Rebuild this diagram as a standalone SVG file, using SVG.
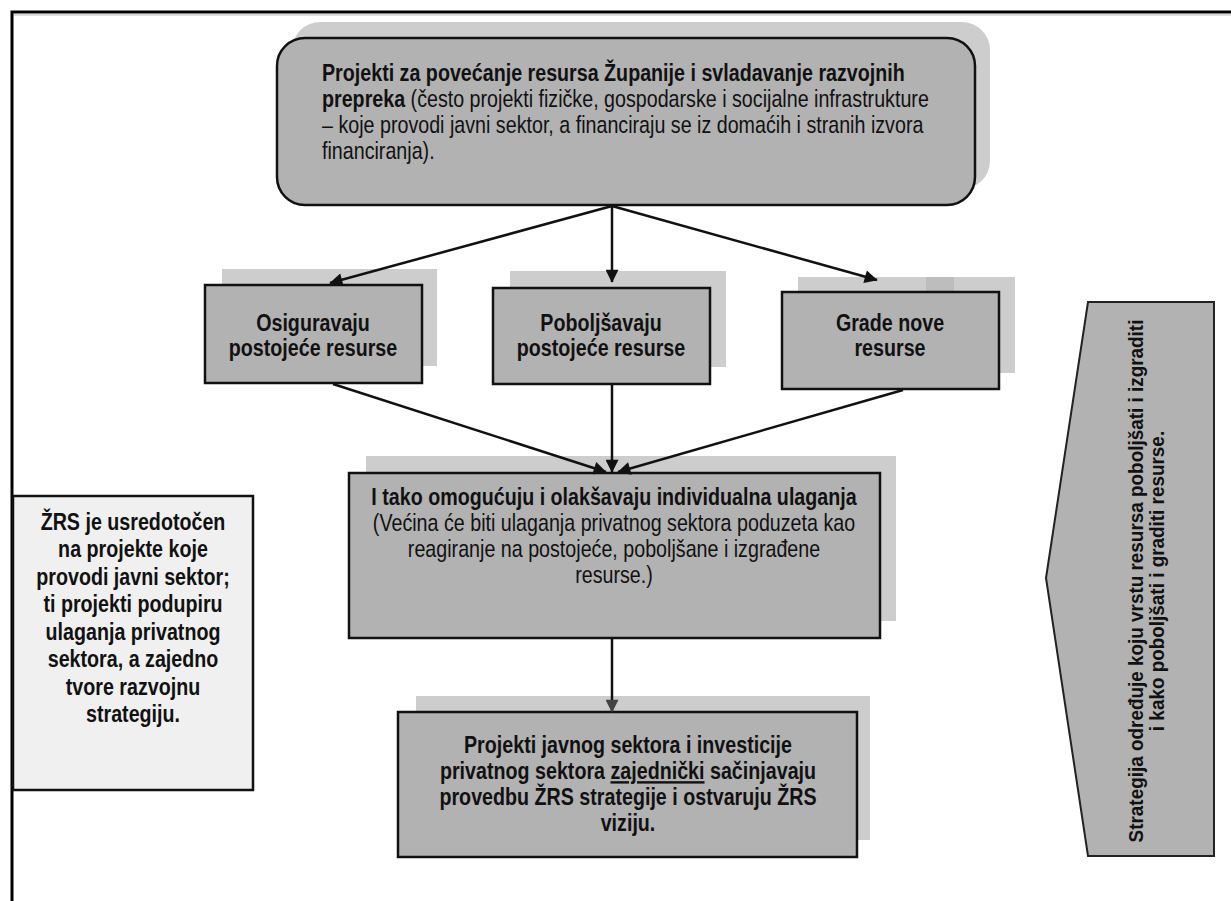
<svg xmlns="http://www.w3.org/2000/svg" width="1231" height="901" viewBox="0 0 1231 901">
<defs>
<marker id="ah" viewBox="0 0 10 10" refX="9.5" refY="5" markerWidth="18" markerHeight="13" markerUnits="userSpaceOnUse" orient="auto"><path d="M0,0 L10,5 L0,10 z" fill="#111"/></marker>
<marker id="ahg" viewBox="0 0 10 10" refX="9.5" refY="5" markerWidth="18" markerHeight="13" markerUnits="userSpaceOnUse" orient="auto"><path d="M0,0 L10,5 L0,10 z" fill="#444"/></marker>
</defs>
<style>
.t{font-family:'Liberation Sans',Arial,sans-serif;font-size:24px;fill:#111}
.s{font-size:21px}
.b{font-weight:bold}
.c{text-anchor:middle}
.sh{fill:#cdcdcd}
.box{fill:#b2b2b2;stroke:#111;stroke-width:2.5}
.conn{stroke:#111;stroke-width:2.5;fill:none;marker-end:url(#ah)}
</style>
<rect width="1231" height="901" fill="#ffffff"/>
<path d="M12,901 L12,12 L1231,12" fill="none" stroke="#000" stroke-width="3"/>
<path d="M14,15 L1231,15" fill="none" stroke="#bbb" stroke-width="1"/>

<g id="top">
<rect class="sh" x="292" y="22" width="698" height="167" rx="28"/>
<rect class="box" x="277" y="38" width="698" height="167" rx="28"/>
<g transform="translate(322,0) scale(0.82,1)">
<text class="t b" x="0" y="81">Projekti za povećanje resursa Županije i svladavanje razvojnih</text>
<text class="t" x="0" y="107"><tspan class="b">prepreka</tspan> (često projekti fizičke, gospodarske i socijalne infrastrukture</text>
<text class="t" x="0" y="133">– koje provodi javni sektor, a financiraju se iz domaćih i stranih izvora</text>
<text class="t" x="0" y="159">financiranja).</text>
</g>
</g>

<g id="osiguravaju">
<rect class="sh" x="222" y="269" width="215" height="97"/>
<rect class="box" x="205" y="285" width="217" height="98"/>
<g transform="translate(313,0) scale(0.82,1)">
<text class="t b c" x="0" y="331">Osiguravaju</text>
<text class="t b c" x="0" y="356">postojeće resurse</text>
</g>
</g>

<g id="poboljsavaju">
<rect class="sh" x="510" y="271" width="216" height="96"/>
<rect class="box" x="493" y="288" width="217" height="96"/>
<g transform="translate(601,0) scale(0.82,1)">
<text class="t b c" x="0" y="331">Poboljšavaju</text>
<text class="t b c" x="0" y="356">postojeće resurse</text>
</g>
</g>

<g id="grade">
<rect class="sh" x="798" y="277" width="217" height="96"/>
<rect x="926" y="277" width="28" height="15" fill="#bdbdbd"/>
<rect class="box" x="782" y="292" width="217" height="97"/>
<g transform="translate(890,0) scale(0.82,1)">
<text class="t b c" x="0" y="331">Grade nove</text>
<text class="t b c" x="0" y="356">resurse</text>
</g>
</g>

<g id="middle">
<rect class="sh" x="366" y="456" width="530" height="165"/>
<rect class="box" x="349" y="473" width="531" height="165"/>
<g transform="translate(614,0) scale(0.82,1)">
<text class="t b c" x="0" y="505">I tako omogućuju i olakšavaju individualna ulaganja</text>
<text class="t c" x="0" y="531">(Većina će biti ulaganja privatnog sektora poduzeta kao</text>
<text class="t c" x="0" y="557">reagiranje  na postojeće, poboljšane i izgrađene</text>
<text class="t c" x="0" y="583">resurse.)</text>
</g>
</g>

<g id="bottom">
<rect class="sh" x="416" y="696" width="454" height="144"/>
<rect class="box" x="398" y="712" width="459" height="145"/>
<g transform="translate(628,0) scale(0.82,1)">
<text class="t b c" x="0" y="753">Projekti javnog sektora i investicije</text>
<text class="t b c" x="0" y="779">privatnog sektora <tspan text-decoration="underline">zajednički</tspan> sačinjavaju</text>
<text class="t b c" x="0" y="805">provedbu ŽRS strategije i ostvaruju ŽRS</text>
<text class="t b c" x="0" y="831">viziju.</text>
</g>
</g>

<g id="zrs">
<rect x="13" y="496" width="240" height="294" fill="#f0f0f0" stroke="#111" stroke-width="2.5"/>
<g transform="translate(133,0) scale(0.82,1)">
<text class="t b c" x="0" y="530">ŽRS je usredotočen</text>
<text class="t b c" x="0" y="557.5">na projekte koje</text>
<text class="t b c" x="0" y="585">provodi javni sektor;</text>
<text class="t b c" x="0" y="612.5">ti projekti podupiru</text>
<text class="t b c" x="0" y="640">ulaganja privatnog</text>
<text class="t b c" x="0" y="667.5">sektora, a zajedno</text>
<text class="t b c" x="0" y="695">tvore razvojnu</text>
<text class="t b c" x="0" y="722.5">strategiju.</text>
</g>
</g>

<g id="strategija">
<path d="M1088,302 L1214,302 L1214,856 L1088,856 L1046,578 Z" fill="#b2b2b2" stroke="#222" stroke-width="2"/>
<g transform="translate(1143,581) rotate(-90) scale(0.9,1)">
<text class="t s b c" x="0" y="0">Strategija određuje koju vrstu resursa poboljšati i izgraditi</text>
</g>
<g transform="translate(1164,581) rotate(-90) scale(0.9,1)">
<text class="t s b c" x="0" y="0">i kako poboljšati i graditi resurse.</text>
</g>
</g>

<g id="connectors">
<line class="conn" x1="612" y1="206" x2="330" y2="283"/>
<line class="conn" x1="612" y1="206" x2="612" y2="282"/>
<line class="conn" x1="612" y1="206" x2="877" y2="280"/>
<line class="conn" x1="333" y1="384" x2="606" y2="472"/>
<line class="conn" x1="612" y1="385" x2="612" y2="472"/>
<line class="conn" x1="903" y1="390" x2="618" y2="472"/>
<line class="conn" x1="612" y1="639" x2="612" y2="712" style="marker-end:url(#ahg)"/>
</g>
</svg>
